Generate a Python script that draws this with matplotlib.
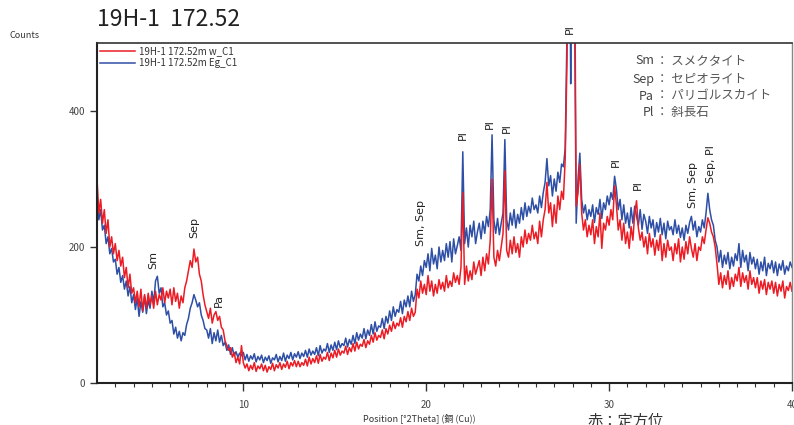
import numpy as np
import matplotlib
matplotlib.use("Agg")
import matplotlib.pyplot as plt

plt.rcParams['font.family'] = ['Noto Sans CJK JP', 'DejaVu Sans']

# ---------------- data ----------------
theta_start = 2.0
theta_step = 0.1

blue_counts = [  # 19H-1 172.52m Eg_C1
    275, 240, 255, 225, 232, 205, 215, 190, 198, 178,
    182, 160, 170, 148, 158, 138, 150, 128, 142, 118,
    130, 108, 125, 98, 120, 104, 128, 102, 122, 110,
    135, 118, 150, 157, 132, 140, 112, 118, 100, 106,
    88, 92, 72, 82, 66, 76, 62, 74, 70, 86,
    95, 110, 118, 130, 122, 112, 118, 100, 92, 80,
    78, 66, 80, 58, 74, 62, 78, 60, 70, 55,
    60, 48, 56, 42, 52, 40, 46, 38, 44, 40,
    45, 34, 42, 32, 40, 35, 43, 31, 39, 34,
    41, 30, 38, 33, 40, 29, 37, 34, 42, 31,
    39, 33, 44, 32, 41, 36, 45, 34, 43, 38,
    46, 36, 44, 39, 48, 38, 50, 41, 47, 42,
    52, 40, 55, 44, 50, 47, 58, 45, 56, 48,
    60, 49, 62, 52, 58, 55, 66, 53, 64, 57,
    70, 58, 74, 63, 72, 66, 80, 65, 78, 70,
    86, 72, 90, 76, 84, 82, 95, 80, 98, 88,
    106, 92, 112, 98, 108, 104, 120, 102, 122, 112,
    128, 112, 135, 120, 130, 160, 150, 172, 158, 180,
    170, 190, 165, 198, 175, 188, 168, 200, 178, 195,
    180, 205, 185, 208, 178, 212, 190, 202, 215, 195,
    340, 205, 228, 200, 232, 215, 238, 205, 222, 235,
    212, 238, 220, 245, 230, 255, 365, 240, 220, 242,
    218, 235, 250, 358, 240, 225, 250, 232, 255, 228,
    248, 235, 258, 240, 265, 245, 260, 250, 272, 255,
    262, 250, 275, 258, 280, 295, 330, 290, 305, 275,
    300, 282, 310, 295, 322, 318, 345, 520, 900, 440,
    850, 600, 235, 300, 338, 270, 250, 262, 240, 255,
    245, 262, 236, 258, 248, 270, 242, 265, 255, 275,
    262, 280, 270, 304, 285, 255, 270, 240, 262, 235,
    250, 228, 258, 235, 260, 245, 232, 255, 226, 248,
    238, 220, 245, 228, 240, 215, 236, 222, 242, 218,
    235, 212, 238, 225, 230, 218, 240, 220, 232, 214,
    228, 210, 232, 220, 236, 245, 225, 238, 215, 230,
    222, 240, 228, 250, 279, 255, 240, 232, 210, 200,
    178, 195, 170, 188, 175, 192, 168, 185, 172, 190,
    180, 205, 170, 195, 178, 188, 165, 192, 175, 185,
    168, 182, 160, 178, 165, 185, 158, 176, 168, 180,
    162, 178, 158, 175, 166, 180, 160, 172, 165, 178,
    170,
]

red_counts = [  # 19H-1 172.52m w_C1
    300, 250, 270, 235, 255, 220, 240, 200, 215, 190,
    205, 180, 195, 172, 185, 155, 170, 140, 160, 132,
    140, 118, 135, 112, 138, 106, 130, 110, 132, 115,
    128, 110, 135, 115, 130, 122, 140, 118, 135, 125,
    138, 115, 140, 120, 132, 110, 128, 118, 140, 150,
    165, 180, 170, 197, 178, 185, 160, 150, 130, 115,
    105, 95, 110, 88, 100, 105, 92, 98, 82, 78,
    62, 55, 48, 52, 38, 45, 30, 38, 28, 55,
    30, 22, 28, 18, 26, 20, 30, 17, 25, 21,
    28, 18, 26, 16, 24, 20, 29, 18, 27, 22,
    30, 20, 28, 23, 32, 21, 30, 25, 33, 24,
    32, 24, 30, 26, 35, 25, 38, 28, 36, 30,
    40, 29, 42, 32, 38, 35, 45, 33, 44, 37,
    48, 38, 50, 41, 47, 44, 54, 42, 52, 46,
    58, 47, 60, 50, 57, 54, 64, 52, 62, 57,
    70, 60, 74, 63, 70, 67, 78, 65, 80, 72,
    85, 76, 90, 80, 88, 84, 96, 82, 98, 90,
    105, 92, 110, 98, 104, 138, 125, 150, 132, 145,
    130, 158, 135, 150, 128, 145, 132, 152, 138, 148,
    135, 158, 140, 150, 142, 162, 148, 158, 145, 170,
    280, 145, 172, 150, 165, 152, 178, 160, 170, 180,
    158, 185, 165, 190, 175, 210, 300, 185, 172, 195,
    180, 200, 220, 312, 195, 185, 210, 190, 215, 192,
    205, 185, 215, 200, 225, 205, 220, 210, 232, 212,
    222, 205, 238, 215, 240, 255, 295, 250, 265, 230,
    262, 235, 275, 255, 282, 270, 330, 480, 900, 800,
    900, 700, 260, 280, 322, 250, 225, 240, 215, 232,
    218, 240, 205, 230, 215, 250, 198, 235, 225, 245,
    232, 255, 240, 290, 262, 225, 240, 210, 235, 205,
    222, 198, 230, 210, 250, 268, 228, 210, 222, 200,
    215, 190, 220, 200, 212, 188, 210, 195, 218, 180,
    205, 185, 210, 195, 200, 180, 205, 190, 212, 178,
    200, 182, 208, 190, 215, 198, 185, 205, 180, 200,
    195, 215, 205, 225, 243, 235, 222, 215, 200, 175,
    145, 162, 140, 158, 145, 165, 138, 155, 142, 160,
    150, 170, 142, 162, 148, 158, 138, 165, 145, 155,
    140, 155, 132, 150, 138, 152, 130, 148, 138, 150,
    132, 148, 128, 145, 135, 150, 125, 142, 136, 148,
    135,
]

series_names = ["19H-1 172.52m w_C1", "19H-1 172.52m Eg_C1"]

peak_labels = ["Sm", "Sep", "Pa", "Sm, Sep", "Pl", "Pl", "Pl", "Pl",
               "Pl", "Pl", "Sm, Sep", "Sep, Pl"]
peak_pos = [5.1, 7.33, 8.64, 19.7, 21.98, 23.5, 24.4, 27.86,
            30.35, 31.57, 34.56, 35.57]
peak_label_base = [168, 213, 112, 201, 357, 373, 368, 513,
                   318, 284, 257, 294]

mineral_abbr = ["Sm", "Sep", "Pa", "Pl"]
mineral_names = ["スメクタイト", "セピオライト", "パリゴルスカイト", "斜長石"]

y_ticks = [0, 200, 400]
x_ticks = [10, 20, 30, 40]

# ---------------- plot ----------------
two_theta = np.round(theta_start + theta_step * np.arange(len(blue_counts)), 2)

W, H = 794, 425
fig = plt.figure(figsize=(W / 100, H / 100), dpi=100)
ax = fig.add_axes([97 / W, 1 - 383 / H, 695 / W, 340 / H])

red_c = '#EC1C24'
blue_c = '#2E4FA6'
lb, = ax.plot(two_theta, blue_counts, color=blue_c, lw=1.1)
lr, = ax.plot(two_theta, red_counts, color=red_c, lw=1.1)

ax.set_xlim(2, 40)
ax.set_ylim(0, 500)
ax.set_yticks(y_ticks)
ax.set_xticks(x_ticks)
ax.set_xticks(np.arange(3, 40, 1), minor=True)
ax.tick_params(axis='both', which='major', direction='out', length=5,
               width=1.0, labelsize=7, colors='#333333', labelcolor='#444444')
ax.tick_params(axis='x', which='minor', direction='out', length=3, width=0.8,
               colors='#333333')
ax.tick_params(axis='x', which='major', length=6, pad=6)
for s in ['left', 'bottom']:
    ax.spines[s].set_linewidth(1.5)
    ax.spines[s].set_color('#222222')
ax.spines['top'].set_linewidth(1.2)
ax.spines['top'].set_color('#333333')
ax.spines['right'].set_linewidth(1.0)
ax.spines['right'].set_color('#888888')

leg = ax.legend([lr, lb], series_names, loc='upper left',
                bbox_to_anchor=(0, 1), borderaxespad=0.15, borderpad=0.2,
                frameon=False, fontsize=7, handlelength=3.6,
                handletextpad=0.4, labelspacing=0.2)
for t in leg.get_texts():
    t.set_color('#333333')

for lab, xp, yb in zip(peak_labels, peak_pos, peak_label_base):
    ax.text(xp, yb, lab, rotation=90, ha='center', va='bottom',
            fontsize=8, color='#222222', clip_on=False,
            family=['DejaVu Sans'])

# mineral legend (top right)
ys = [61, 79, 96, 112]
for ab, nm, yy in zip(mineral_abbr, mineral_names, ys):
    fig.text(654 / W, 1 - yy / H, ab, ha='right', va='center',
             fontsize=9, color='#444444')
    fig.text(656 / W, 1 - yy / H, "： " + nm, ha='left', va='center',
             fontsize=9, color='#555555')

fig.text(97 / W, 1 - 20 / H, "19H-1  172.52", ha='left', va='center',
         fontsize=16.5, color='#222222')
fig.text(10 / W, 1 - 35 / H, "Counts", ha='left', va='center',
         fontsize=6.5, color='#333333')
fig.text(419 / W, 1 - 418 / H, "Position [°2Theta] (銅 (Cu))", ha='center',
         va='center', fontsize=6.5, color='#333333')
fig.text(588 / W, 1 - 413 / H, "赤：定方位", ha='left', va='top',
         fontsize=11, color='#333333')

fig.savefig("out.png", dpi=100)
